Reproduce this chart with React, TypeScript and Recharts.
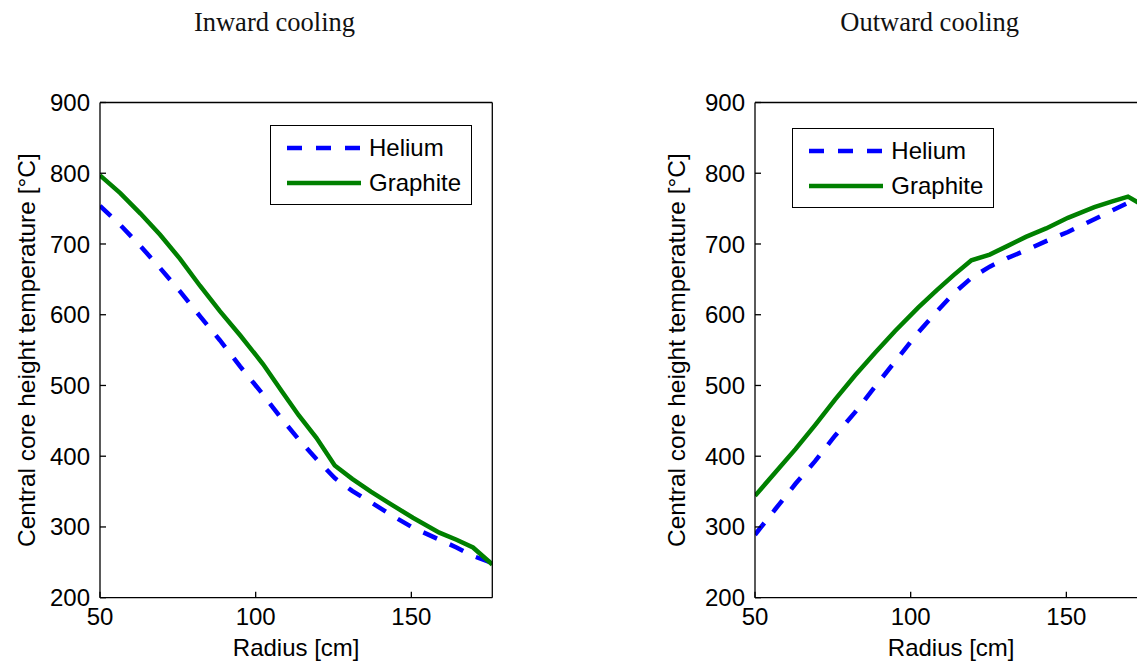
import React from 'react';
import { LineChart, Line, XAxis, YAxis, Legend } from 'recharts';

// radius along the core [cm]
const radius = [50, 56.5, 63, 69.3, 75.7, 82.1, 88.5, 95, 102.4, 108.5, 113.8, 119.5, 125.4, 131, 137, 143.5, 150.5, 159, 164.5, 169.8, 176];

// inward cooling [°C]
const heliumInward = [754, 727, 697, 666, 633, 598, 564, 527, 487, 452, 424, 396, 369, 351, 335, 317, 299, 282, 271, 259, 249];
const graphiteInward = [797, 772, 743, 713, 679, 641, 605, 571, 530, 491, 458, 426, 387, 368, 350, 332, 313, 292, 282, 271, 247];

// outward cooling [°C]
const heliumOutward = [289, 325, 361, 393, 429, 462, 498, 534, 575, 605, 630, 652, 668, 680, 691, 704, 717, 735, 747, 758, 752];
const graphiteOutward = [344, 377, 410, 444, 480, 514, 546, 577, 610, 635, 656, 677, 685, 697, 710, 722, 737, 752, 760, 767, 751];

const xTicks = [50, 100, 150];
const yTicks = [200, 300, 400, 500, 600, 700, 800, 900];

const FONT = 'Arial, "Liberation Sans", Helvetica, sans-serif';
const SERIF = '"Liberation Serif", "Times New Roman", serif';
const X_DOMAIN: [number, number] = [50, 176];
const Y_DOMAIN: [number, number] = [200, 900];

// legend order and dash pattern per series
const seriesOrder = ['he', 'gr'];
const seriesStyle: Record<string, { dash?: string }> = {
    he: { dash: '15 14' },
    gr: {},
};

const LegendBox = ({ payload }: any) => {
    const items = [...(payload || [])].sort(
        (a: any, b: any) => seriesOrder.indexOf(a.dataKey) - seriesOrder.indexOf(b.dataKey)
    );
    return (
        <div
            style={{
                position: 'relative',
                width: 202,
                height: 80,
                boxSizing: 'border-box',
                border: '1.3px solid #000',
                background: '#fff',
            }}
        >
            {items.map((entry: any, i: number) => (
                <div
                    key={entry.value}
                    style={{ position: 'absolute', left: 0, top: (i === 0 ? 22 : 57) - 15, height: 30, display: 'flex', alignItems: 'center' }}
                >
                    <svg width={90} height={30}>
                        <line
                            x1={16}
                            x2={90}
                            y1={15}
                            y2={15}
                            stroke={entry.color}
                            strokeWidth={4.5}
                            strokeDasharray={seriesStyle[entry.dataKey]?.dash}
                        />
                    </svg>
                    <span style={{ marginLeft: 8, fontSize: 24, fontFamily: FONT, color: '#000', lineHeight: '30px' }}>
                        {entry.value}
                    </span>
                </div>
            ))}
        </div>
    );
};

type PanelProps = {
    left: number;
    helium: number[];
    graphite: number[];
    legendLeft: number;
    legendTop: number;
    yTitleShift: number;
};

const Panel: React.FC<PanelProps> = ({ left, helium, graphite, legendLeft, legendTop, yTitleShift }) => {
    const data = radius.map((r, i) => ({ r, he: helium[i], gr: graphite[i] }));

    const xTitle = (props: any) => {
        const vb = props.viewBox;
        return (
            <text x={vb.x + vb.width / 2} y={vb.y + 58.5} textAnchor="middle" fontSize={24} fontFamily={FONT} fill="#000">
                Radius [cm]
            </text>
        );
    };

    const yTitle = (props: any) => {
        const vb = props.viewBox;
        const cx = vb.x - yTitleShift;
        const cy = vb.y + vb.height / 2;
        return (
            <text transform={`translate(${cx},${cy}) rotate(-90)`} textAnchor="middle" fontSize={24.5} fontFamily={FONT} fill="#000">
                Central core height temperature [°C]
            </text>
        );
    };

    const axisLine = { stroke: '#000', strokeWidth: 1.3 };
    const tickStyle = { fill: '#000', fontSize: 24, fontFamily: FONT };

    return (
        <div style={{ position: 'absolute', left, top: 0 }}>
            <LineChart width={520} height={663} data={data} margin={{ top: 100.5, right: 26.7, bottom: 5.3, left: 40 }}>
                <XAxis
                    dataKey="r"
                    type="number"
                    domain={X_DOMAIN}
                    ticks={xTicks}
                    interval={0}
                    allowDataOverflow
                    height={60}
                    tickSize={-6}
                    tickMargin={16}
                    axisLine={axisLine}
                    tickLine={axisLine}
                    tick={tickStyle}
                    label={xTitle}
                />
                <XAxis
                    xAxisId="top"
                    orientation="top"
                    type="number"
                    domain={X_DOMAIN}
                    ticks={xTicks}
                    interval={0}
                    allowDataOverflow
                    height={2}
                    tickSize={-6}
                    axisLine={axisLine}
                    tickLine={axisLine}
                    tick={false}
                />
                <YAxis
                    type="number"
                    domain={Y_DOMAIN}
                    ticks={yTicks}
                    interval={0}
                    allowDataOverflow
                    width={60}
                    tickSize={-6}
                    tickMargin={16}
                    axisLine={axisLine}
                    tickLine={axisLine}
                    tick={tickStyle}
                    label={yTitle}
                />
                <YAxis
                    yAxisId="right"
                    orientation="right"
                    type="number"
                    domain={Y_DOMAIN}
                    ticks={yTicks}
                    interval={0}
                    allowDataOverflow
                    width={1}
                    tickSize={-6}
                    axisLine={axisLine}
                    tickLine={axisLine}
                    tick={false}
                />
                <Legend
                    layout="vertical"
                    align="center"
                    verticalAlign="middle"
                    content={<LegendBox />}
                    wrapperStyle={{ left: legendLeft, top: legendTop, width: 202, height: 80 }}
                />
                <Line
                    type="linear"
                    dataKey="he"
                    name="Helium"
                    stroke="#0000ff"
                    strokeWidth={4.5}
                    strokeDasharray="15 14"
                    dot={false}
                    isAnimationActive={false}
                />
                <Line
                    type="linear"
                    dataKey="gr"
                    name="Graphite"
                    stroke="#008000"
                    strokeWidth={4.5}
                    dot={false}
                    isAnimationActive={false}
                />
            </LineChart>
        </div>
    );
};

const App: React.FC = () => (
    <div style={{ position: 'fixed', left: 0, top: 0, width: 1137, height: 663, overflow: 'hidden', background: '#fff' }}>
        <Panel left={0} helium={heliumInward} graphite={graphiteInward} legendLeft={270} legendTop={125} yTitleShift={5} />
        <Panel left={655} helium={heliumOutward} graphite={graphiteOutward} legendLeft={137.3} legendTop={127.6} yTitleShift={10} />
        <svg width={1137} height={60} style={{ position: 'absolute', left: 0, top: 0, pointerEvents: 'none' }}>
            <text x={274.5} y={30.7} textAnchor="middle" fontSize={26.5} fontFamily={SERIF} fill="#111">
                Inward cooling
            </text>
            <text x={929.7} y={30.7} textAnchor="middle" fontSize={26.5} fontFamily={SERIF} fill="#111">
                Outward cooling
            </text>
        </svg>
    </div>
);

export default App;
